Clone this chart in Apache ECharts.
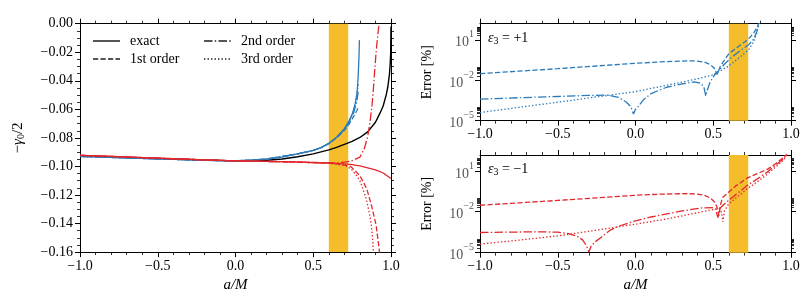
<!DOCTYPE html>
<html><head><meta charset="utf-8">
<script src="https://cdn.jsdelivr.net/npm/echarts@6/dist/echarts.min.js"></script>
<style>html,body{margin:0;padding:0;background:#fff}#c{width:808px;height:298px}</style>
</head><body><div id="c"></div>
<script>
const FONT = 'Liberation Serif';

// ---- tick definitions ----
const xMin = -1, xMax = 1, xInterval = 0.5;
const yLeftMin = -0.16, yLeftMax = 0, yLeftInterval = 0.02;
const logMin = -5.05, logMax = 2.2;
const logMajorTicks = [-5, -2, 1];
const logMinorDecades = [-5, -2, 1];
const bandRange = [0.6, 0.725];

// ---- left panel: -gamma0/2 vs a/M ----
const exactGR = [[-1,-0.0925],[-0.8,-0.0932],[-0.6,-0.0940],[-0.4,-0.0947],[-0.2,-0.0955],[0,-0.0961],[0.1,-0.0961],[0.2,-0.0957],[0.3,-0.0948],[0.4,-0.0932],[0.5,-0.0912],[0.6,-0.0884],[0.65,-0.0866],[0.7,-0.0846],[0.75,-0.0825],[0.8,-0.0797],[0.85,-0.0758],[0.9,-0.0690],[0.93,-0.0625],[0.95,-0.0575],[0.97,-0.0495],[0.98,-0.0440],[0.99,-0.0355],[0.995,-0.0280],[0.998,-0.0200],[1.0,-0.0020]];

const plusExact = [[-1,-0.0930],[-0.8,-0.0937],[-0.6,-0.0944],[-0.4,-0.0951],[-0.2,-0.0957],[0,-0.0961],[0.1,-0.0957],[0.2,-0.0948],[0.3,-0.0935],[0.4,-0.0912],[0.5,-0.0888],[0.55,-0.0868],[0.6,-0.0838],[0.65,-0.0795],[0.7,-0.0735],[0.73,-0.0680],[0.75,-0.0635],[0.77,-0.0560],[0.78,-0.0495],[0.785,-0.0440],[0.79,-0.0340],[0.794,-0.0230],[0.797,-0.0115]];
const plus1st = [[-1,-0.0930],[-0.6,-0.0944],[-0.2,-0.0957],[0,-0.0961],[0.2,-0.0948],[0.4,-0.0912],[0.5,-0.0888],[0.55,-0.0868],[0.6,-0.0840],[0.65,-0.0800],[0.7,-0.0748],[0.73,-0.0705],[0.76,-0.0650],[0.78,-0.0610],[0.79,-0.0585]];
const plus2nd = [[-1,-0.0930],[-0.6,-0.0944],[-0.2,-0.0957],[0,-0.0961],[0.2,-0.0948],[0.4,-0.0912],[0.5,-0.0888],[0.55,-0.0868],[0.6,-0.0839],[0.65,-0.0798],[0.7,-0.0742],[0.73,-0.0692],[0.76,-0.0625],[0.78,-0.0545],[0.79,-0.0470]];
const plus3rd = [[-1,-0.0930],[-0.6,-0.0944],[-0.2,-0.0957],[0,-0.0961],[0.2,-0.0948],[0.4,-0.0912],[0.5,-0.0888],[0.55,-0.0868],[0.6,-0.0838],[0.65,-0.0796],[0.7,-0.0738],[0.73,-0.0686],[0.76,-0.0610],[0.78,-0.0510],[0.79,-0.0420]];

const minusExact = [[-1,-0.0922],[-0.8,-0.0930],[-0.6,-0.0938],[-0.4,-0.0946],[-0.2,-0.0954],[0,-0.0961],[0.2,-0.0965],[0.4,-0.0969],[0.6,-0.0976],[0.7,-0.0982],[0.75,-0.0987],[0.8,-0.0996],[0.85,-0.1010],[0.9,-0.1024],[0.95,-0.1046],[1.0,-0.1085]];
const minus1st = [[-1,-0.0922],[-0.6,-0.0938],[-0.2,-0.0954],[0,-0.0961],[0.4,-0.0969],[0.6,-0.0977],[0.65,-0.0982],[0.7,-0.0990],[0.74,-0.1000],[0.77,-0.1030],[0.8,-0.1066],[0.82,-0.1105],[0.845,-0.1160],[0.875,-0.1275],[0.905,-0.1415],[0.925,-0.1590],[0.93,-0.1650]];
const minus2nd = [[-1,-0.0922],[-0.6,-0.0938],[-0.2,-0.0954],[0,-0.0961],[0.4,-0.0969],[0.6,-0.0975],[0.65,-0.0975],[0.7,-0.0970],[0.75,-0.0960],[0.8,-0.0935],[0.83,-0.0870],[0.85,-0.0790],[0.865,-0.0690],[0.878,-0.0570],[0.888,-0.0440],[0.897,-0.0300],[0.905,-0.0190],[0.913,-0.0100],[0.922,-0.0010]];
const minus3rd = [[-1,-0.0922],[-0.6,-0.0938],[-0.2,-0.0954],[0,-0.0961],[0.4,-0.0969],[0.6,-0.0978],[0.65,-0.0984],[0.7,-0.0993],[0.72,-0.1000],[0.75,-0.1025],[0.78,-0.1066],[0.8,-0.1100],[0.82,-0.1159],[0.84,-0.1225],[0.855,-0.1298],[0.868,-0.1370],[0.876,-0.1438],[0.882,-0.1510],[0.886,-0.1590],[0.889,-0.1660]];

// ---- right panels: log10(error [%]) ----
const errPlus1st = [[-1,-1.53],[-0.75,-1.35],[-0.5,-1.16],[-0.25,-0.96],[0,-0.76],[0.15,-0.66],[0.3,-0.59],[0.38,-0.58],[0.44,-0.66],[0.48,-0.85],[0.505,-1.1],[0.518,-1.45],[0.525,-1.6],[0.532,-1.4],[0.545,-1.0],[0.57,-0.55],[0.6,-0.05],[0.65,0.4],[0.7,0.82],[0.73,1.1],[0.76,1.5],[0.78,1.9],[0.795,2.3]];
const errPlus2nd = [[-1,-3.44],[-0.75,-3.33],[-0.5,-3.24],[-0.3,-3.16],[-0.18,-3.14],[-0.11,-3.3],[-0.06,-3.65],[-0.03,-4.0],[-0.013,-4.55],[0.0,-4.2],[0.02,-3.95],[0.05,-3.5],[0.1,-3.02],[0.2,-2.55],[0.3,-2.3],[0.38,-2.15],[0.42,-2.25],[0.44,-2.55],[0.452,-3.2],[0.462,-2.75],[0.48,-2.15],[0.51,-1.6],[0.54,-1.25],[0.57,-0.85],[0.6,-0.5],[0.65,-0.02],[0.7,0.4],[0.73,0.65],[0.76,1.05],[0.78,1.6],[0.795,2.3]];
const errPlus3rd = [[-1,-4.44],[-0.75,-4.05],[-0.5,-3.67],[-0.25,-3.27],[0,-2.88],[0.2,-2.4],[0.4,-1.92],[0.5,-1.62],[0.55,-1.3],[0.6,-0.95],[0.65,-0.5],[0.7,-0.02],[0.73,0.3],[0.76,0.85],[0.78,1.5],[0.795,2.3]];

const errMinus1st = [[-1,-1.53],[-0.75,-1.35],[-0.5,-1.17],[-0.25,-0.98],[0,-0.79],[0.15,-0.71],[0.3,-0.67],[0.38,-0.68],[0.44,-0.78],[0.48,-0.98],[0.505,-1.25],[0.522,-1.6],[0.537,-2.3],[0.546,-1.5],[0.56,-0.95],[0.6,-0.55],[0.65,-0.05],[0.72,0.5],[0.8,0.9],[0.85,1.15],[0.9,1.55],[0.95,2.0],[0.975,2.3]];
const errMinus2nd = [[-1,-3.55],[-0.8,-3.52],[-0.6,-3.5],[-0.5,-3.53],[-0.43,-3.64],[-0.38,-3.8],[-0.34,-4.1],[-0.315,-4.55],[-0.3,-5.0],[-0.285,-4.55],[-0.26,-4.25],[-0.22,-3.9],[-0.16,-3.35],[-0.1,-3.05],[0,-2.68],[0.1,-2.4],[0.21,-2.15],[0.3,-1.95],[0.425,-1.73],[0.5,-1.7],[0.515,-1.85],[0.53,-2.45],[0.543,-1.75],[0.57,-1.45],[0.6,-1.15],[0.65,-0.7],[0.72,-0.05],[0.8,0.55],[0.85,0.95],[0.9,1.45],[0.95,1.9],[0.975,2.3]];
const errMinus3rd = [[-1,-4.41],[-0.75,-4.12],[-0.5,-3.8],[-0.43,-3.68],[-0.25,-3.38],[0,-2.93],[0.2,-2.55],[0.425,-2.02],[0.5,-1.84],[0.54,-1.78],[0.553,-2.05],[0.562,-2.75],[0.572,-1.95],[0.6,-1.42],[0.65,-0.95],[0.72,-0.3],[0.8,0.35],[0.85,0.8],[0.9,1.3],[0.95,1.8],[0.98,2.3]];

// ---- styles ----
const BLUE = '#2a7ab9', RED = '#e2272c', BLACK = '#000', LEG = '#555', BAND = '#f5bd2c';
const LW = 1.3;
const DASH = [5.2, 2.3], DASHDOT = [8.5, 2.3, 1.4, 2.3], DOT = [1.4, 2.1];
const minusSign = '\u2212';
const fmtX = v => (v < -1e-9 ? minusSign : '') + Math.abs(v).toFixed(1);
const fmtYL = v => (Math.abs(v) < 1e-9 ? '0.00' : (v < 0 ? minusSign : '') + Math.abs(v).toFixed(2));
const fmtLog = v => { const n = Math.round(v); return '{b|10}{s|' + (n < 0 ? minusSign + Math.abs(n) : n) + '}'; };
const logMinorTicks = [];
logMinorDecades.forEach(n => { for (let k = 2; k <= 9; k++) { const t = n + Math.log10(k); if (t <= logMax) logMinorTicks.push(t); } });

const txt = () => ({ fontFamily: FONT, fontSize: 14, color: '#000' });
const axLine = () => ({ show: true, onZero: false, lineStyle: { color: '#000', width: 1 } });

function xAx(grid, pos, labels, name) {
  return {
    type: 'value', gridIndex: grid, position: pos, min: xMin, max: xMax, interval: xInterval,
    axisLine: axLine(), splitLine: { show: false },
    axisTick: { show: true, inside: false, length: 5, lineStyle: { color: '#000', width: 1 } },
    minorTick: { show: true, splitNumber: 5, length: 3, lineStyle: { color: '#000', width: 0.8 } },
    axisLabel: { show: labels, formatter: fmtX, margin: 7, ...txt() },
    name: name || '', nameLocation: 'middle', nameGap: 25,
    nameTextStyle: { fontFamily: FONT, fontSize: 15, fontStyle: 'italic', color: '#000' }
  };
}
function yLeftAx(pos, labels, name) {
  return {
    type: 'value', gridIndex: 0, position: pos, min: yLeftMin, max: yLeftMax, interval: yLeftInterval,
    axisLine: axLine(), splitLine: { show: false },
    axisTick: { show: true, inside: false, length: 5, lineStyle: { color: '#000', width: 1 } },
    minorTick: { show: true, splitNumber: 4, length: 3, lineStyle: { color: '#000', width: 0.8 } },
    axisLabel: { show: labels, formatter: fmtYL, margin: 7, ...txt() },
    name: name || '', nameLocation: 'middle', nameGap: 54, nameRotate: 90,
    nameTextStyle: { fontFamily: FONT, fontSize: 15, color: '#000',
      rich: { n: { fontFamily: FONT, fontSize: 15, lineHeight: 16 }, i: { fontFamily: FONT, fontSize: 15, fontStyle: 'italic', lineHeight: 16 },
              s: { fontFamily: FONT, fontSize: 10, lineHeight: 10, padding: [7, 0, 0, 0] } } }
  };
}
function yLogAx(grid, pos, major, labels, name) {
  return {
    type: 'value', gridIndex: grid, position: pos, min: logMin, max: logMax,
    axisLine: { show: major, onZero: false, lineStyle: { color: '#000', width: 1 } }, splitLine: { show: false },
    axisTick: { show: true, inside: false, length: major ? 5 : 3, customValues: major ? logMajorTicks : logMinorTicks,
                lineStyle: { color: '#000', width: major ? 1 : 0.8 } },
    axisLabel: { show: labels, customValues: logMajorTicks, formatter: fmtLog, margin: 6,
      rich: { b: { fontFamily: FONT, fontSize: 14, lineHeight: 20, verticalAlign: 'bottom' },
              s: { fontFamily: FONT, fontSize: 10, lineHeight: 10, verticalAlign: 'top' } } },
    name: name || '', nameLocation: 'middle', nameGap: 46, nameRotate: 90,
    nameTextStyle: { fontFamily: FONT, fontSize: 14, color: '#000' }
  };
}

function ln(name, data, color, type, xi, yi, w) {
  return { name, type: 'line', data, xAxisIndex: xi, yAxisIndex: yi, symbol: 'none', showSymbol: false,
           z: 3, silent: true, animation: false, clip: true,
           lineStyle: { color, width: w || LW, type: type || 'solid' }, itemStyle: { color } };
}
function band(xi, yi) {
  return { type: 'line', data: [], xAxisIndex: xi, yAxisIndex: yi, z: 1, silent: true,
    markArea: { silent: true, itemStyle: { color: BAND, opacity: 1 }, data: [[{ xAxis: bandRange[0] }, { xAxis: bandRange[1] }]] } };
}
function legendSeries(name, type) {
  return { name, type: 'line', data: [], xAxisIndex: 0, yAxisIndex: 0, symbol: 'none',
           lineStyle: { color: LEG, width: 1.5, type }, itemStyle: { color: LEG } };
}
function legendAt(left, data) {
  return { orient: 'vertical', left, top: 34, padding: 0, itemWidth: 27, itemHeight: 14, itemGap: 4, selectedMode: false,
    itemStyle: { opacity: 0 }, data, textStyle: { fontFamily: FONT, fontSize: 14, color: '#000', padding: [0, 0, 0, 5] } };
}

const option = {
  animation: false,
  backgroundColor: '#fff',
  grid: [
    { left: 80, top: 23.7, width: 311, height: 229.6 },
    { left: 480, top: 23.7, width: 311, height: 97 },
    { left: 480, top: 155, width: 311, height: 97.7 }
  ],
  xAxis: [
    xAx(0, 'bottom', true, 'a/M'), xAx(0, 'top', false),
    xAx(1, 'bottom', true), xAx(1, 'top', false),
    xAx(2, 'bottom', true, 'a/M'), xAx(2, 'top', false)
  ],
  yAxis: [
    yLeftAx('left', true, '{n|' + minusSign + '}{i|γ}{s|0}{n|/2}'), yLeftAx('right', false),
    yLogAx(1, 'left', true, true, 'Error [%]'), yLogAx(1, 'left', false, false),
    yLogAx(1, 'right', true, false), yLogAx(1, 'right', false, false),
    yLogAx(2, 'left', true, true, 'Error [%]'), yLogAx(2, 'left', false, false),
    yLogAx(2, 'right', true, false), yLogAx(2, 'right', false, false)
  ],
  legend: [
    legendAt(92, ['exact', '1st order']),
    legendAt(203, ['2nd order', '3rd order'])
  ],
  graphic: [
    { type: 'text', left: 488, top: 30, z: 10,
      style: { text: '{i|ε}{s|3}{n| = +1}', fill: '#000',
        rich: { i: { fontFamily: FONT, fontSize: 14, fontStyle: 'italic', lineHeight: 16 }, n: { fontFamily: FONT, fontSize: 14, lineHeight: 16 },
                s: { fontFamily: FONT, fontSize: 10, lineHeight: 10, padding: [6, 0, 0, 0] } } } },
    { type: 'text', left: 488, top: 161, z: 10,
      style: { text: '{i|ε}{s|3}{n| = ' + minusSign + '1}', fill: '#000',
        rich: { i: { fontFamily: FONT, fontSize: 14, fontStyle: 'italic', lineHeight: 16 }, n: { fontFamily: FONT, fontSize: 14, lineHeight: 16 },
                s: { fontFamily: FONT, fontSize: 10, lineHeight: 10, padding: [6, 0, 0, 0] } } } }
  ],
  series: [
    band(0, 0), band(2, 2), band(4, 6),
    legendSeries('exact', 'solid'), legendSeries('1st order', DASH), legendSeries('2nd order', DASHDOT), legendSeries('3rd order', DOT),
    ln('gr', exactGR, BLACK, 'solid', 0, 0, 1.4),
    ln('p0', plusExact, BLUE, 'solid', 0, 0),
    ln('p1', plus1st, BLUE, DASH, 0, 0),
    ln('p2', plus2nd, BLUE, DASHDOT, 0, 0),
    ln('p3', plus3rd, BLUE, DOT, 0, 0),
    ln('m0', minusExact, RED, 'solid', 0, 0),
    ln('m1', minus1st, RED, DASH, 0, 0),
    ln('m2', minus2nd, RED, DASHDOT, 0, 0),
    ln('m3', minus3rd, RED, DOT, 0, 0),
    ln('ep1', errPlus1st, BLUE, DASH, 2, 2),
    ln('ep2', errPlus2nd, BLUE, DASHDOT, 2, 2),
    ln('ep3', errPlus3rd, BLUE, DOT, 2, 2),
    ln('em1', errMinus1st, RED, DASH, 4, 6),
    ln('em2', errMinus2nd, RED, DASHDOT, 4, 6),
    ln('em3', errMinus3rd, RED, DOT, 4, 6)
  ]
};
const chart = echarts.init(document.getElementById('c'), null, { renderer: 'canvas' });
chart.setOption(option);
</script></body></html>
